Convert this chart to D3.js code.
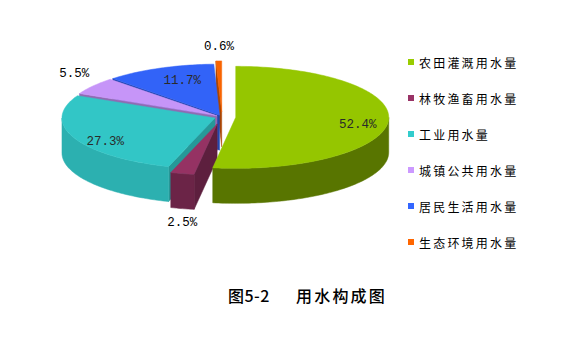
<!DOCTYPE html>
<html><head><meta charset="utf-8">
<script src="https://cdn.jsdelivr.net/npm/d3@7"></script>
<style>html,body{margin:0;padding:0;background:#fff;}svg{display:block;}</style>
</head><body>
<svg id="chart" width="576" height="352"></svg>
<script>
const categories = ["农田灌溉用水量","林牧渔畜用水量","工业用水量","城镇公共用水量","居民生活用水量","生态环境用水量"];
const values = [52.4, 2.5, 27.3, 5.5, 11.7, 0.6];
const valueLabels = ["52.4%","2.5%","27.3%","5.5%","11.7%","0.6%"];
const colors = ["#99cc00","#993366","#33cccc","#cc99ff","#3366ff","#ff6600"];
const titleParts = ["图5-2", "用水构成图"];

const W = 576, H = 352;
const cx = 222, cy = 117, rx = 153, ry = 51, depth = 35;
const explode = [0.09, 0.14, 0.05, 0.04, 0.04, 0.1];
const sideShade = [1.55, 1.0, 0.42, 0.6, 0.7, 0.7];
// label placement: radius factor, dx, dy
const labelPos = [[0.8,0,5],[1.06,2,46],[0.78,0,8],[1.15,0,-7],[0.62,0,-5],[1.25,1,-1]];
const inside = [true,false,true,false,true,false];

const svg = d3.select("#chart");
const color = d3.scaleOrdinal().domain(categories).range(colors);
const arcs = d3.pie().sort(null).value(d => d).startAngle(0).endAngle(2*Math.PI)(values);

function P(c, a, r=1, dz=0){ return [c[0] + r*rx*Math.sin(a), c[1] - r*ry*Math.cos(a) + dz]; }
function arcPts(c, a0, a1, dz=0){
  const n = Math.max(2, Math.ceil((a1-a0)/0.02));
  return d3.range(n+1).map(k => P(c, a0 + (a1-a0)*k/n, 1, dz));
}
const line = d3.line().curve(d3.curveLinear);

const slices = arcs.map((a,i) => {
  const m = (a.startAngle + a.endAngle)/2;
  const c = [cx + explode[i]*rx*Math.sin(m), cy - explode[i]*ry*Math.cos(m)];
  return {i, s:a.startAngle, e:a.endAngle, m, c, col: color(categories[i])};
});

const walls = [];
slices.forEach(sl => {
  const {s,e,c,col,i} = sl;
  const a0 = Math.max(s, Math.PI/2), a1 = Math.min(e, 3*Math.PI/2);
  if (a1 > a0) {
    const top = arcPts(c, a0, a1, 0), bot = arcPts(c, a0, a1, depth).reverse();
    walls.push({pts: top.concat(bot), fill: d3.color(col).darker(sideShade[i]), key: d3.mean(top, p=>p[1]) + 20});
  }
  if (Math.sin(s) < -1e-6) {
    const p = P(c, s);
    walls.push({pts:[c, p, [p[0], p[1]+depth], [c[0], c[1]+depth]], fill: d3.color(col).darker(sideShade[i]+0.4), key: (c[1]+p[1])/2});
  }
  if (Math.sin(e) > 1e-6) {
    const p = P(c, e);
    walls.push({pts:[c, p, [p[0], p[1]+depth], [c[0], c[1]+depth]], fill: d3.color(col).darker(sideShade[i]+0.4), key: (c[1]+p[1])/2});
  }
});
walls.sort((a,b) => a.key - b.key);

const g = svg.append("g");
g.selectAll("path.wall").data(walls).join("path").attr("class","wall")
  .attr("d", d => line(d.pts) + "Z")
  .attr("fill", d => d.fill).attr("stroke", d => d.fill).attr("stroke-width", 0.5);

g.selectAll("path.top").data(slices).join("path").attr("class","top")
  .attr("d", d => line([d.c].concat(arcPts(d.c, d.s, d.e))) + "Z")
  .attr("fill", d => d3.color(d.col).darker(0.08)).attr("stroke", d => d3.color(d.col).darker(0.08)).attr("stroke-width", 0.5);

g.selectAll("text.val").data(slices).join("text").attr("class","val")
  .attr("x", d => P(d.c, d.m, labelPos[d.i][0])[0] + labelPos[d.i][1])
  .attr("y", d => P(d.c, d.m, labelPos[d.i][0])[1] + labelPos[d.i][2])
  .attr("text-anchor","middle").attr("dominant-baseline","central")
  .attr("font-family","'Liberation Mono', 'DejaVu Sans Mono', monospace")
  .attr("font-size", 12.5)
  .attr("fill", d => inside[d.i] ? "#2a2a2a" : "#000")
  .text(d => valueLabels[d.i]);

const ly = d3.scalePoint().domain(categories).range([62, 242]);
const leg = svg.append("g").selectAll("g").data(categories).join("g")
  .attr("transform", d => `translate(0,${ly(d)})`);
leg.append("rect").attr("x", 408).attr("y", -3).attr("width", 6).attr("height", 6)
  .attr("fill", d => color(d));
leg.append("text").attr("x", 419).attr("y", 0).attr("dominant-baseline","central")
  .attr("font-family","'Noto Sans CJK SC', sans-serif").attr("font-size", 12)
  .attr("letter-spacing", 2.2).attr("fill","#000").text(d => d);

const tg = svg.append("g").attr("font-family","'Noto Sans CJK SC', sans-serif")
  .attr("font-size", 16).attr("fill","#000").attr("font-weight", 500);
tg.append("text").attr("x", 228).attr("y", 295).attr("dominant-baseline","central")
  .attr("letter-spacing", 0.5).text(titleParts[0]);
tg.append("text").attr("x", 296).attr("y", 295).attr("dominant-baseline","central")
  .attr("letter-spacing", 2.2).text(titleParts[1]);
</script>
</body></html>
